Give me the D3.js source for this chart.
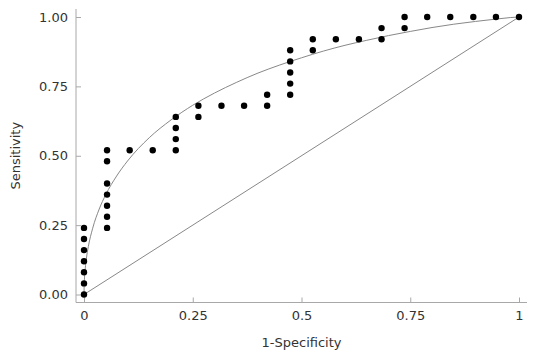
<!DOCTYPE html>
<html><head><meta charset="utf-8">
<script src="https://cdn.jsdelivr.net/npm/d3@7/dist/d3.min.js"></script>
<style>body{margin:0;background:#fff;} svg{display:block;}</style>
</head><body>
<svg id="c" width="540" height="357"></svg>
<script>
// Observed ROC operating points
const pointX = [0,0,0,0,0,0,0,
  0.053,0.053,0.053,0.053,0.053,0.053,0.053,
  0.105,0.158,
  0.211,0.211,0.211,0.211,
  0.263,0.263,0.316,0.368,0.421,0.421,
  0.474,0.474,0.474,0.474,0.474,
  0.526,0.526,0.579,0.632,0.684,0.684,0.737,0.737,
  0.789,0.842,0.895,0.947,1];
const pointY = [0,0.04,0.08,0.12,0.16,0.20,0.24,
  0.24,0.28,0.32,0.36,0.40,0.48,0.52,
  0.52,0.52,
  0.52,0.56,0.60,0.64,
  0.64,0.68,0.68,0.68,0.68,0.72,
  0.72,0.76,0.80,0.84,0.88,
  0.88,0.92,0.92,0.92,0.92,0.96,0.96,1.00,
  1.00,1.00,1.00,1.00,1.00];
// Fitted smooth ROC curve
const curveX = [0,0.0003,0.001,0.003,0.005,0.01,0.02,0.035,0.05,0.075,0.1,0.15,0.2,0.25,0.3,0.35,0.4,0.45,0.5,0.55,0.6,0.65,0.7,0.75,0.8,0.85,0.9,0.95,0.98,1];
const curveY = [0,0.029,0.055,0.096,0.124,0.173,0.239,0.308,0.360,0.427,0.481,0.565,0.629,0.682,0.726,0.764,0.798,0.827,0.853,0.877,0.898,0.916,0.933,0.948,0.962,0.974,0.984,0.993,0.998,1];
// Chance diagonal
const diagX = [0,1];
const diagY = [0,1];
const xTicks = [0,0.25,0.5,0.75,1];
const xTickLabels = ["0","0.25","0.5","0.75","1"];
const yTicks = [0,0.25,0.5,0.75,1];
const yTickLabels = ["0.00","0.25","0.50","0.75","1.00"];

const svg = d3.select("#c");
const x = d3.scaleLinear().domain([0,1]).range([84,519]);
const y = d3.scaleLinear().domain([0,1]).range([294.5,17]);
const font = "'DejaVu Sans', Verdana, sans-serif";
const axisCol = "#a8a8a8";
const axisX0 = x.range()[0]-8, axisY0 = y.range()[0]+8;

// axes
const gx = svg.append("g").attr("transform",`translate(0,${axisY0})`)
  .call(d3.axisBottom(x).tickValues(xTicks).tickFormat((d,i)=>xTickLabels[i]).tickSizeInner(-5).tickSizeOuter(0).tickPadding(8));
const gy = svg.append("g").attr("transform",`translate(${axisX0},0)`)
  .call(d3.axisLeft(y).tickValues(yTicks).tickFormat((d,i)=>yTickLabels[i]).tickSizeInner(-5).tickSizeOuter(0).tickPadding(8));
[gx,gy].forEach(g=>{
  g.select(".domain").remove();
  g.selectAll(".tick line").attr("stroke",axisCol);
  g.selectAll(".tick text").attr("fill","#333").style("font-family",font).style("font-size","13px");
});
svg.append("line").attr("x1",axisX0).attr("x2",axisX0).attr("y1",y.range()[1]-8).attr("y2",axisY0).attr("stroke",axisCol);
svg.append("line").attr("x1",axisX0).attr("x2",x.range()[1]+8).attr("y1",axisY0).attr("y2",axisY0).attr("stroke",axisCol);

// diagonal
svg.append("path").datum(diagX.map((d,i)=>[d,diagY[i]]))
  .attr("d", d3.line().x(d=>x(d[0])).y(d=>y(d[1])))
  .attr("fill","none").attr("stroke","#888").attr("stroke-width",1);
// fitted curve
svg.append("path").datum(curveX.map((d,i)=>[d,curveY[i]]))
  .attr("d", d3.line().curve(d3.curveMonotoneX).x(d=>x(d[0])).y(d=>y(d[1])))
  .attr("fill","none").attr("stroke","#888").attr("stroke-width",1);
// points
svg.append("g").selectAll("circle").data(pointX.map((d,i)=>[d,pointY[i]])).join("circle")
  .attr("cx",d=>x(d[0])).attr("cy",d=>y(d[1])).attr("r",3.2).attr("fill","#000");

// labels
svg.append("text").attr("x",(x.range()[0]+x.range()[1])/2).attr("y",347)
  .attr("text-anchor","middle").attr("fill","#333").style("font-family",font).style("font-size","13px").text("1-Specificity");
svg.append("text").attr("transform",`translate(20,${(y.range()[0]+y.range()[1])/2}) rotate(-90)`)
  .attr("text-anchor","middle").attr("fill","#333").style("font-family",font).style("font-size","13px").text("Sensitivity");
</script>
</body></html>
